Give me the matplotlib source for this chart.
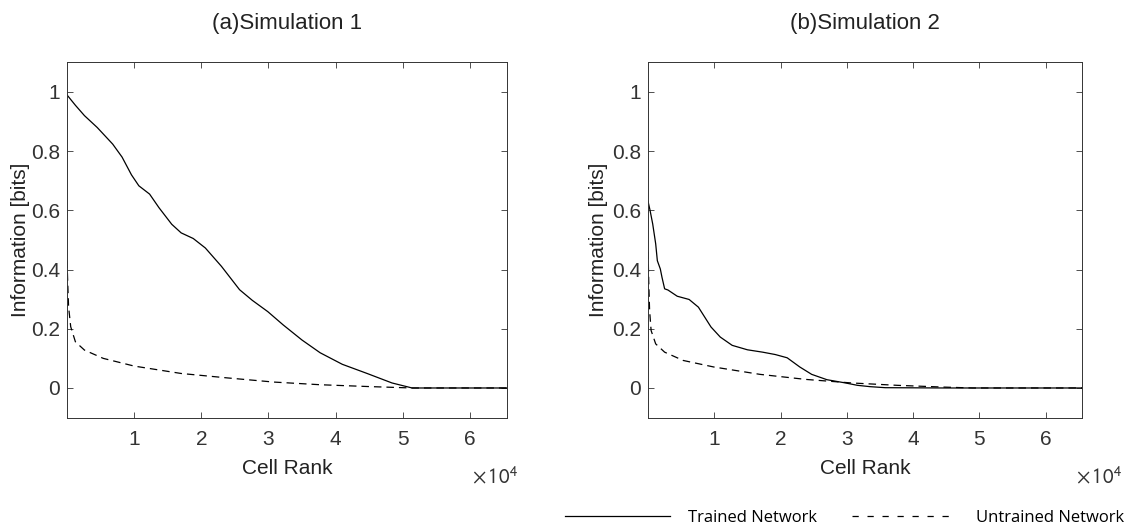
import numpy as np
import matplotlib
matplotlib.use("Agg")
import matplotlib.pyplot as plt
from matplotlib.ticker import FuncFormatter

# valores (x = rank da celula, y = informacao em bits)
x_trained1 = [0, 1250, 2600, 4500, 6800, 8200, 9600, 10700, 12300, 13700, 15600,
              17000, 18800, 20600, 23000, 25700, 27600, 29900, 32200, 35000, 37700,
              41000, 44700, 48400, 51400, 58000, 65536]
y_trained1 = [0.99, 0.955, 0.92, 0.88, 0.824, 0.78, 0.72, 0.683, 0.655, 0.609, 0.553,
              0.524, 0.505, 0.473, 0.411, 0.332, 0.296, 0.258, 0.213, 0.162, 0.119,
              0.080, 0.049, 0.017, 0.0, 0.0, 0.0]

x_untrained1 = [0, 100, 230, 550, 1250, 2600, 5400, 10000, 17000, 23900, 30800,
                37700, 44700, 51400, 58000, 65536]
y_untrained1 = [0.43, 0.36, 0.275, 0.207, 0.156, 0.128, 0.10, 0.074, 0.049, 0.034, 0.020,
                0.011, 0.005, 0.0, 0.0, 0.0]

x_trained2 = [0, 300, 700, 1150, 1400, 1850, 2100, 2500, 3000, 4400, 6200, 7600, 9500,
              10900, 12700, 15000, 17300, 19200, 21000, 22900, 24700, 27000, 29800,
              31600, 33500, 35800, 45000, 65536]
y_trained2 = [0.63, 0.60, 0.554, 0.487, 0.43, 0.402, 0.374, 0.335, 0.331, 0.31, 0.299,
              0.273, 0.206, 0.172, 0.144, 0.129, 0.121, 0.113, 0.102, 0.071, 0.046, 0.028,
              0.017, 0.009, 0.0045, 0.001, 0.0, 0.0]

x_untrained2 = [0, 100, 230, 460, 1150, 2500, 5300, 9900, 16900, 23800, 30700, 37600,
                44600, 49000, 58000, 65536]
y_untrained2 = [0.46, 0.36, 0.262, 0.194, 0.149, 0.121, 0.093, 0.071, 0.046, 0.029, 0.017,
                0.009, 0.003, 0.0, 0.0, 0.0]

titulos = ["(a)Simulation 1", "(b)Simulation 2"]
xticks = [10000, 20000, 30000, 40000, 50000, 60000]
yticks = [0, 0.2, 0.4, 0.6, 0.8, 1]

plt.rcParams["font.family"] = ["Liberation Sans", "DejaVu Sans"]
cinza = "#333333"

fig = plt.figure(figsize=(11.32, 5.25), dpi=100)
posicoes = [[0.0592, 0.2046, 0.3887, 0.6766], [0.5725, 0.2046, 0.3835, 0.6766]]
pos_expoente = [0.92, 0.985]
pos_ylabel = [-0.084, -0.092]
dados = [(x_trained1, y_trained1, x_untrained1, y_untrained1),
         (x_trained2, y_trained2, x_untrained2, y_untrained2)]

for i in range(2):
    ax = fig.add_axes(posicoes[i])
    xt, yt, xu, yu = dados[i]
    l1, = ax.plot(xt, yt, color="black", lw=0.9, label="Trained Network")
    l2, = ax.plot(xu, yu, color="black", lw=0.9, dashes=(6, 4), label="Untrained Network")
    ax.set_xlim(0, 65536)
    ax.set_ylim(-0.1, 1.1)
    ax.set_xticks(xticks)
    ax.set_yticks(yticks)
    ax.xaxis.set_major_formatter(FuncFormatter(lambda v, p: "%g" % (v / 1e4)))
    ax.yaxis.set_major_formatter(FuncFormatter(lambda v, p: "%g" % v))
    ax.tick_params(direction="in", top=True, right=True, length=4, width=0.6,
                   labelsize=15, colors=cinza)
    ax.tick_params(axis="x", pad=9)
    ax.tick_params(axis="y", pad=5)
    for s in ax.spines.values():
        s.set_color(cinza)
        s.set_linewidth(0.7)
    ax.set_xlabel("Cell Rank", fontsize=15, color="#222222", labelpad=7)
    ax.set_ylabel("Information [bits]", fontsize=15, color="#222222")
    ax.yaxis.set_label_coords(pos_ylabel[i], 0.5)
    ax.set_title(titulos[i], fontsize=16, color="#222222", pad=24)
    ax.text(pos_expoente[i], -0.165, r"$\times\,10^4$", transform=ax.transAxes, fontsize=15,
            color=cinza, ha="left", va="center", math_fontfamily="stixsans")

leg = fig.legend(handles=[l1, l2], loc="lower right", bbox_to_anchor=(1.006, -0.03), ncol=2,
                 frameon=False, handlelength=6.3, handletextpad=1.1, columnspacing=2.1,
                 prop={"family": "Open Sans", "size": 12})
leg.get_lines()[1].set_dashes((5, 7))

plt.savefig("out.png", dpi=100)
